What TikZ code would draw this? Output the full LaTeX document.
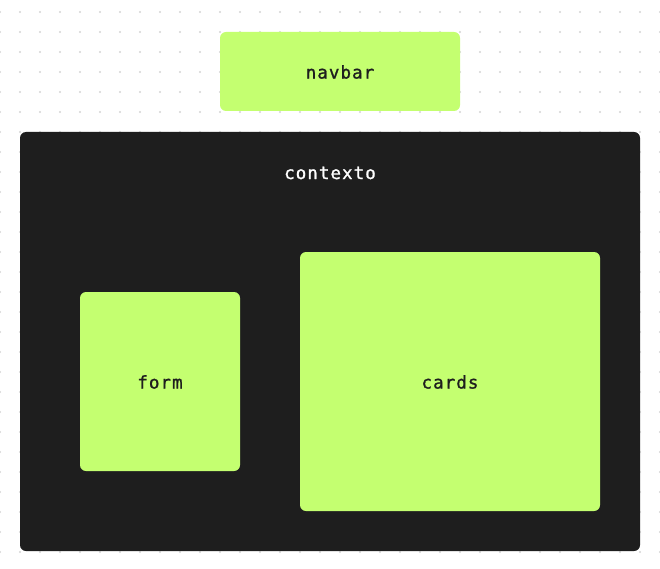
\documentclass[tikz,border=0pt]{standalone}
\usepackage{fontspec}
\newfontfamily\monofont[LetterSpace=6,FakeBold=1.2]{DejaVu Sans Mono}
\definecolor{lime}{HTML}{C4FF70}
\definecolor{ink}{HTML}{1E1E1E}
\definecolor{dotc}{HTML}{D4D4D4}
\tikzset{
  greenbox/.style={fill=lime, rounded corners=6pt},
  darkbox/.style={fill=ink, rounded corners=6pt},
  lbl/.style={font=\monofont\fontsize{17.5}{20}\selectfont, text=ink, inner sep=0pt},
  lblw/.style={lbl, text=white}
}
\begin{document}
\begin{tikzpicture}[x=1pt,y=-1pt]
\useasboundingbox (0,0) rectangle (660,569);
\fill[white] (0,0) rectangle (660,569);
\foreach \i in {0,...,33} {
  \foreach \j in {0,...,27} {
    \fill[dotc] (20*\i,12+20*\j) circle (1.1pt);
  }
}
% navbar
\fill[greenbox] (220,32) rectangle (460,111);
\node[lbl] (navbar) at (340,72) {navbar};
% contexto
\fill[darkbox] (20,132) rectangle (640,551);
\node[lblw] (contexto) at (330,173) {contexto};
% form
\fill[greenbox] (80,292) rectangle (240,471);
\node[lbl] (form) at (160,382) {form};
% cards
\fill[greenbox] (300,252) rectangle (600,511);
\node[lbl] (cards) at (450,382) {cards};
\end{tikzpicture}
\end{document}
